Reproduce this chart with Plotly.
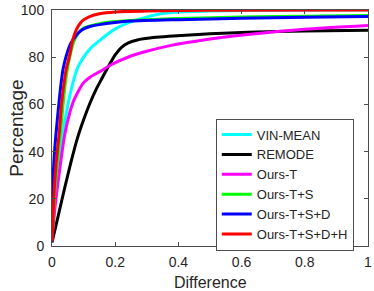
import plotly.graph_objects as go

# ---- data ----
vin_x = [0, 0.005, 0.01, 0.02, 0.028, 0.035, 0.045, 0.056, 0.07, 0.081, 0.1, 0.12, 0.15, 0.2, 0.25, 0.3, 0.35, 0.4, 0.5, 0.6, 0.8, 1.0]
vin_y = [2, 12, 20, 32, 40, 48, 56, 63.5, 71, 75.5, 80, 83.5, 87, 92, 95, 97, 98.5, 99.2, 99.6, 99.8, 99.95, 100]

rem_x = [0, 0.02, 0.04, 0.06, 0.08, 0.1, 0.12, 0.14, 0.16, 0.18, 0.2, 0.22, 0.24, 0.27, 0.32, 0.37, 0.5, 0.62, 0.8, 1.0]
rem_y = [1.5, 13, 24.5, 35.5, 45.5, 53.5, 60.5, 66.5, 71.5, 76.5, 81, 84.2, 86, 87.3, 88.3, 88.9, 89.9, 90.6, 91.1, 91.4]

t_x = [0, 0.005, 0.01, 0.02, 0.03, 0.04, 0.056, 0.07, 0.098, 0.12, 0.15, 0.19, 0.244, 0.3, 0.37, 0.49, 0.62, 0.8, 1.0]
t_y = [3, 10, 17, 28, 38, 47, 56.4, 62, 68.9, 71.5, 73.8, 77, 80.2, 82.5, 84.8, 87.5, 89.6, 91.8, 93.4]

ts_x = [0, 0.005, 0.01, 0.02, 0.027, 0.035, 0.045, 0.056, 0.07, 0.085, 0.1, 0.15, 0.2, 0.3, 0.4, 0.6, 0.8, 1.0]
ts_y = [2, 15, 25, 40, 48, 60, 72, 80, 87, 90.5, 92.3, 94.2, 95.1, 95.9, 96.4, 97.0, 97.4, 97.7]

tsd_x = [0, 0.004, 0.008, 0.013, 0.02, 0.027, 0.035, 0.046, 0.06, 0.072, 0.085, 0.1, 0.12, 0.15, 0.2, 0.25, 0.4, 0.6, 0.8, 1.0]
tsd_y = [2, 30, 40, 48, 58, 67, 75, 81, 86, 88.4, 90.5, 92, 93, 93.8, 94.7, 95.3, 95.9, 96.5, 96.9, 97.2]

tsdh_x = [0, 0.005, 0.01, 0.018, 0.023, 0.03, 0.038, 0.045, 0.056, 0.065, 0.077, 0.09, 0.1, 0.119, 0.15, 0.2, 0.3, 0.5, 1.0]
tsdh_y = [2, 18, 30, 42, 48, 60, 69, 75, 81, 87, 91.7, 94.5, 95.8, 97.2, 98.4, 99.2, 99.6, 99.9, 100]

series = [
    ("VIN-MEAN", vin_x, vin_y, "#00FFFF"),
    ("REMODE", rem_x, rem_y, "#000000"),
    ("Ours-T", t_x, t_y, "#FF00FF"),
    ("Ours-T+S", ts_x, ts_y, "#00FF00"),
    ("Ours-T+S+D", tsd_x, tsd_y, "#0000FF"),
    ("Ours-T+S+D+H", tsdh_x, tsdh_y, "#FF0000"),
]

x_ticks = [0, 0.2, 0.4, 0.6, 0.8, 1]
y_ticks = [0, 20, 40, 60, 80, 100]

FONT = "Liberation Sans, Arial, sans-serif"
TXT = "#262626"
AX = "#4d4d4d"

fig = go.Figure()
for name, xs, ys, col in series:
    fig.add_trace(go.Scatter(x=xs, y=ys, name=name, mode="lines",
                             line=dict(color=col, width=3, shape="spline", smoothing=0.6)))

axis_common = dict(showline=True, linecolor=AX, linewidth=1, mirror="ticks",
                   ticks="inside", ticklen=4, tickcolor=AX, showgrid=False,
                   zeroline=False, ticklabeloverflow="allow",
                   tickfont=dict(family=FONT, size=14, color=TXT))

fig.update_layout(
    width=374, height=291,
    margin=dict(l=52, r=2, t=5, b=45),
    paper_bgcolor="white", plot_bgcolor="white",
    font=dict(family=FONT, color=TXT),
    xaxis=dict(range=[0, 1], tickvals=x_ticks, ticklabelstandoff=3, **axis_common),
    yaxis=dict(range=[0, 100], tickvals=y_ticks, ticklabelstandoff=4, **axis_common),
    legend=dict(x=0.955, y=0.54, xanchor="right", yanchor="top",
                bgcolor="white", bordercolor=AX, borderwidth=1,
                font=dict(family=FONT, size=13, color=TXT),
                itemwidth=30, tracegroupgap=0),
    showlegend=True,
)

fig.add_annotation(text="Difference", xref="paper", yref="paper", x=0.5, y=-0.11,
                   xanchor="center", yanchor="top", showarrow=False,
                   font=dict(family=FONT, size=16, color=TXT))
fig.add_annotation(text="Percentage", xref="paper", yref="paper", x=-0.115, y=0.5,
                   xanchor="center", yanchor="middle", textangle=-90, showarrow=False,
                   font=dict(family=FONT, size=19, color=TXT))

fig.write_html("out.html", config={"displayModeBar": False},
               post_script="document.body.style.margin='0';document.body.style.overflow='hidden';")
